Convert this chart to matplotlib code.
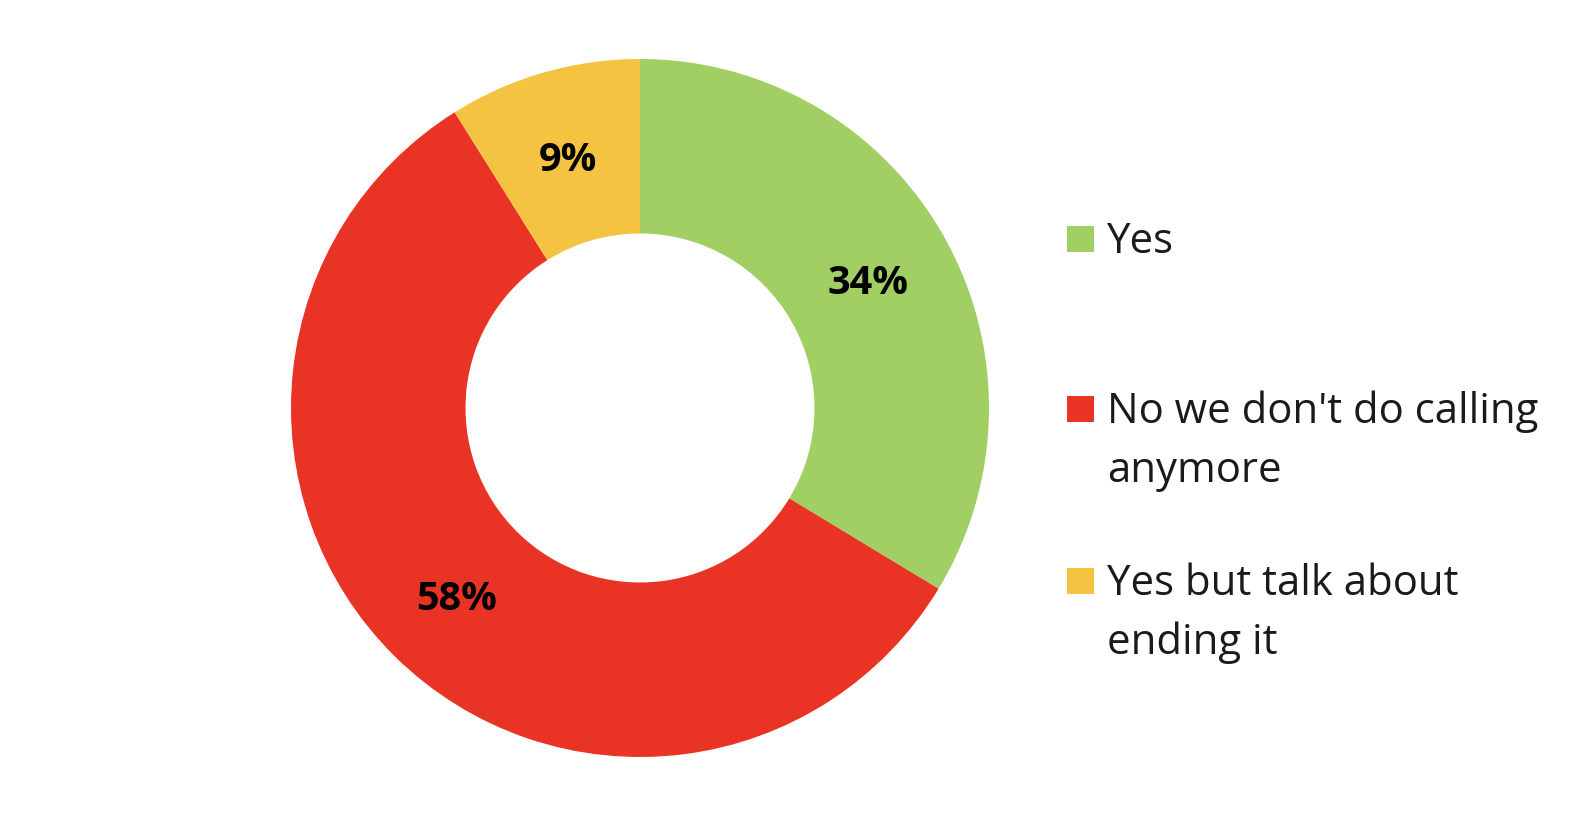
import matplotlib.pyplot as plt
from matplotlib.patches import Rectangle

plt.rcParams['font.family'] = ['Open Sans', 'DejaVu Sans']

labels = ['Yes', "No we don't do calling\nanymore", 'Yes but talk about\nending it']
values = [34, 58, 9]
colors = ['#A2CF63', '#E83325', '#F5C342']

W, H = 1588, 836
fig = plt.figure(figsize=(W / 100, H / 100), dpi=100)

# donut: center (640, 408) px, outer radius 349 px
cx, cy, r = 640, 408, 349
ax = fig.add_axes([(cx - r) / W, (H - cy - r) / H, 2 * r / W, 2 * r / H])
wedges, texts = ax.pie(values, colors=colors, startangle=90, counterclock=False,
                       radius=1, labels=['%d%%' % v for v in values],
                       labeldistance=0.75,
                       wedgeprops=dict(width=0.5, linewidth=0),
                       textprops=dict(fontsize=28.5, fontweight='bold', color='black',
                                      ha='center', va='center_baseline'))
ax.set_xlim(-1, 1)
ax.set_ylim(-1, 1)
ax.set_aspect('equal')
ax.axis('off')

# legend drawn by hand so the marker sits on the first line
baselines = [253, 423, 595]
line_gap = 59
for lab, col, base in zip(labels, colors, baselines):
    fig.patches.append(Rectangle((1067 / W, (H - base + 1) / H), 27 / W, 26 / H,
                                 transform=fig.transFigure, color=col, linewidth=0))
    for i, line in enumerate(lab.split('\n')):
        fig.text(1107 / W, (H - base - i * line_gap) / H, line, fontsize=30.2,
                 color='#1a1a1a', ha='left', va='baseline')

fig.savefig('out.png', dpi=100)
